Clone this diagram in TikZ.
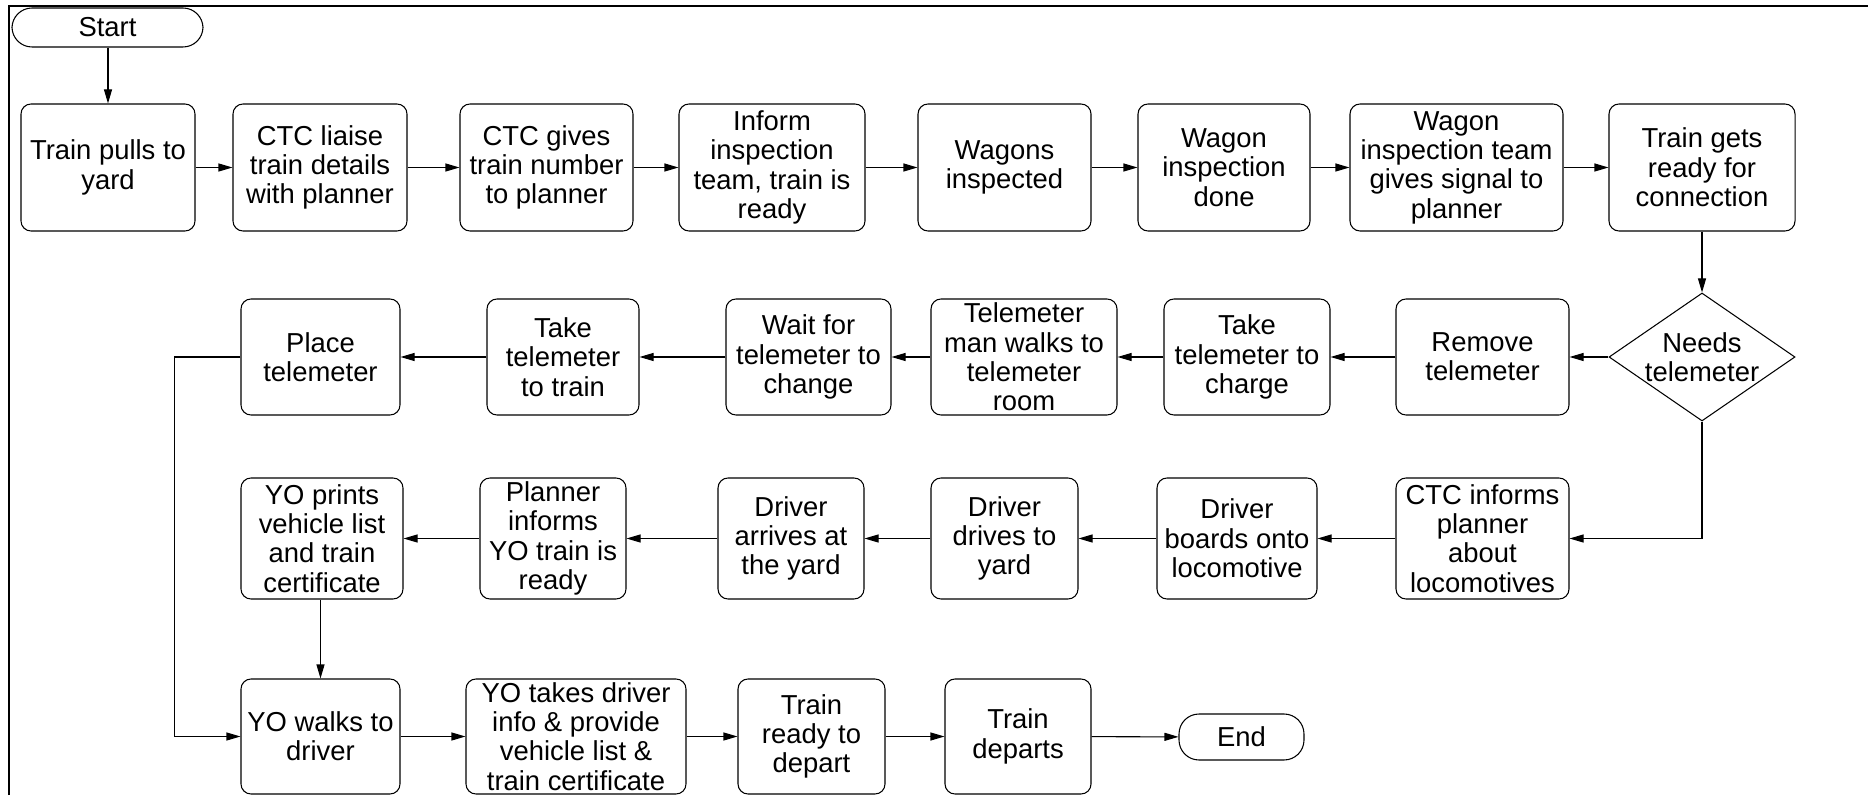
\documentclass[tikz,border=0pt]{standalone}
\usepackage{fontspec}
\setmainfont{Liberation Sans}
\usetikzlibrary{
	positioning				% Allows relative placement
	, arrows.meta			% Allows Triangle style arrow tips
	, shapes.geometric		% Allows the diamond decision shape
}

\begin{document}
\begin{tikzpicture}[
			process/.style={
				rectangle,
				rounded corners=2mm,
				draw=black, line width=0.6pt,
				minimum width=#1,
				inner sep=0pt,
				align=center,
				font=\fontsize{15.6}{16.7}\selectfont
			},
			terminal/.style={
				process=#1,
				rounded corners=4mm
			},
			decision/.style={
				diamond,
				draw=black, line width=0.6pt,
				minimum width=3.72cm,
				minimum height=2.56cm,
				inner sep=-0.3cm,
				align=center,
				font=\fontsize{15.6}{16.7}\selectfont
			},
			arrow/.style={
				->,
				line width=0.6pt
			},
			>={Triangle[length=2.8mm,width=1.6mm]}]

			\useasboundingbox (0,0) rectangle (37.36,15.9);
			\draw [line width=1.4pt] (0.18,0) -- (0.18,15.78) -- (37.36,15.78);

			\node [terminal=3.82cm, minimum height=0.78cm] (start) at (2.15,15.35) {Start};

			%%% Row 1: the train comes in and is inspected
			\foreach \name/\x/\w/\txt in {
					pulls/2.16/3.48/{Train pulls to\\yard},
					liaise/6.40/3.48/{CTC liaise\\train details\\with planner},
					gives/10.93/3.46/{CTC gives\\train number\\to planner},
					inform/15.44/3.72/{Inform\\inspection\\team, train is\\ready},
					inspected/20.09/3.46/{Wagons\\inspected},
					done/24.48/3.44/{Wagon\\inspection\\done},
					signal/29.13/4.26/{Wagon\\inspection team\\gives signal to\\planner},
					ready/34.04/3.72/{Train gets\\ready for\\connection}} {
				\node [process=\w cm, minimum height=2.54cm] (\name) at (\x,12.55) {\txt};
			};

			%%% Row 2: telemeter handling, right to left
			\node [decision] (needs) at (34.04,8.76) {Needs\\telemeter};
			\foreach \name/\x/\w/\txt in {
					remove/29.65/3.46/{Remove\\telemeter},
					charge/24.94/3.32/{Take\\telemeter to\\charge},
					walks/20.48/3.72/{Telemeter\\man walks to\\telemeter\\room},
					wait/16.17/3.30/{Wait for\\telemeter to\\change},
					totrain/11.26/3.04/{Take\\telemeter\\to train},
					place/6.41/3.18/{Place\\telemeter}} {
				\node [process=\w cm, minimum height=2.32cm] (\name) at (\x,8.76) {\txt};
			};

			%%% Row 3: locomotive and driver
			\foreach \name/\x/\w/\txt in {
					locos/29.65/3.46/{CTC informs\\planner\\about\\locomotives},
					boards/24.74/3.20/{Driver\\boards onto\\locomotive},
					drives/20.09/2.94/{Driver\\drives to\\yard},
					arrives/15.82/2.92/{Driver\\arrives at\\the yard},
					informsyo/11.06/2.92/{Planner\\informs\\YO train is\\ready},
					prints/6.44/3.24/{YO prints\\vehicle list\\and train\\certificate}} {
				\node [process=\w cm, minimum height=2.42cm] (\name) at (\x,5.13) {\txt};
			};

			%%% Row 4: departure
			\foreach \name/\x/\w/\txt in {
					walksto/6.41/3.18/{YO walks to\\driver},
					takes/11.52/4.40/{YO takes driver\\info \& provide\\vehicle list \&\\train certificate},
					depart/16.23/2.94/{Train\\ready to\\depart},
					departs/20.36/2.92/{Train\\departs}} {
				\node [process=\w cm, minimum height=2.30cm] (\name) at (\x,1.17) {\txt};
			};
			\node [terminal=2.5cm, minimum height=0.92cm] (finish) at (24.83,1.16) {End};

			%%% Connectors
			\draw [arrow] (start.south -| pulls) -- (pulls);
			\foreach \a/\b in {pulls/liaise, liaise/gives, gives/inform, inform/inspected,
					inspected/done, done/signal, signal/ready, ready/needs, needs/remove,
					remove/charge, charge/walks, walks/wait, wait/totrain, totrain/place,
					locos/boards, boards/drives, drives/arrives, arrives/informsyo, informsyo/prints,
					walksto/takes, takes/depart, depart/departs, departs/finish} {
				\draw [arrow] (\a) -- (\b);
			};
			\draw [arrow] (needs.south) |- (locos);
			\draw [arrow] (place.west) -- ++(-1.32,0) |- (walksto);
			\draw [arrow] (prints.south -| walksto) -- (walksto);

		\end{tikzpicture}
\end{document}
